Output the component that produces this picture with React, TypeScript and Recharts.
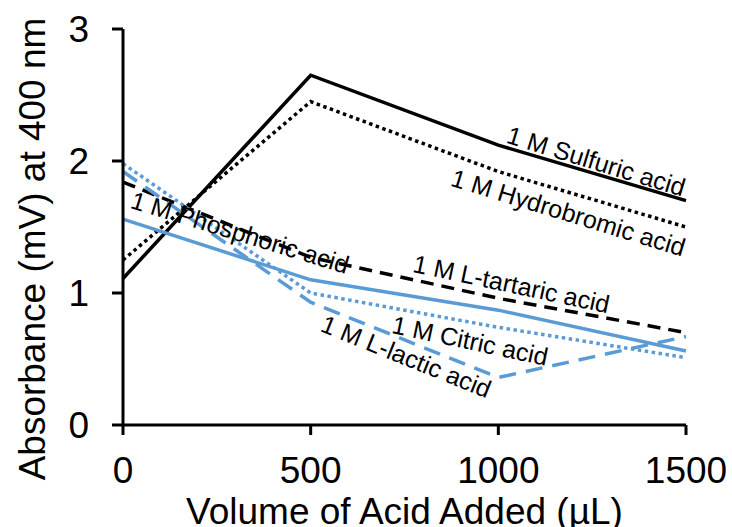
import React from 'react';
import { LineChart, Line, XAxis, YAxis, ReferenceDot } from 'recharts';

const volumes = [0, 500, 1000, 1500];
const sulfuric = [1.11, 2.65, 2.12, 1.7];
const hydrobromic = [1.25, 2.45, 1.92, 1.5];
const tartaric = [1.84, 1.27, 0.96, 0.7];
const phosphoric = [1.56, 1.1, 0.87, 0.56];
const citric = [1.98, 1.0, 0.74, 0.51];
const lactic = [1.92, 0.93, 0.36, 0.67];

const xTicks = [0, 500, 1000, 1500];
const yTicks = [0, 1, 2, 3];

// label text, anchor in data units, rotation
const seriesLabels = [
  { text: '1 M Sulfuric acid', x: 1261, y: 2.0, angle: 17 },
  { text: '1 M Hydrobromic acid', x: 1187, y: 1.61, angle: 17 },
  { text: '1 M Phosphoric acid', x: 312, y: 1.46, angle: 17 },
  { text: '1 M L-tartaric acid', x: 1035, y: 1.07, angle: 12 },
  { text: '1 M Citric acid', x: 925, y: 0.64, angle: 12 },
  { text: '1 M L-lactic acid', x: 755, y: 0.52, angle: 22 },
];

const data = volumes.map((v, i) => ({
  x: v,
  sulfuric: sulfuric[i],
  hydrobromic: hydrobromic[i],
  tartaric: tartaric[i],
  phosphoric: phosphoric[i],
  citric: citric[i],
  lactic: lactic[i],
}));

const FONT = '"Liberation Sans", Arial, sans-serif';
const BLUE = '#5B9BD5';
const BLACK = '#000000';

const XTitle = (props: any) => {
  const { viewBox } = props;
  return (
    <text x={viewBox.x + viewBox.width / 2} y={524} textAnchor="middle" fontSize={37} fontFamily={FONT} fill={BLACK}>
      Volume of Acid Added (µL)
    </text>
  );
};

const YTitle = (props: any) => {
  const { viewBox } = props;
  const cx = 45;
  const cy = viewBox.y + viewBox.height / 2 + 22;
  return (
    <text x={cx} y={cy} transform={`rotate(-90, ${cx}, ${cy})`} textAnchor="middle" fontSize={37} fontFamily={FONT} fill={BLACK}>
      Absorbance (mV) at 400 nm
    </text>
  );
};

const makeLabel = (text: string, angle: number) => (p: any) => (
  <text
    x={p.cx}
    y={p.cy}
    transform={`rotate(${angle}, ${p.cx}, ${p.cy})`}
    textAnchor="middle"
    dominantBaseline="central"
    fontSize={25}
    fontFamily={FONT}
    fill={BLACK}
  >
    {text}
  </text>
);

export default function App() {
  return (
    <div style={{ position: 'absolute', left: 0, top: 0, background: '#fff' }}>
      <LineChart width={732} height={527} data={data} margin={{ top: 29, right: 46, left: 0, bottom: 0 }}>
        <XAxis
          dataKey="x"
          type="number"
          domain={[0, 1500]}
          ticks={xTicks}
          interval={0}
          height={102}
          tickSize={10}
          tickMargin={22}
          axisLine={{ stroke: BLACK, strokeWidth: 3 }}
          tickLine={{ stroke: BLACK, strokeWidth: 3 }}
          tick={{ fill: BLACK, fontSize: 37, fontFamily: FONT }}
          label={<XTitle />}
        />
        <YAxis
          type="number"
          domain={[0, 3]}
          ticks={yTicks}
          interval={0}
          width={123}
          tickSize={11}
          tickMargin={23}
          axisLine={{ stroke: BLACK, strokeWidth: 3 }}
          tickLine={{ stroke: BLACK, strokeWidth: 3 }}
          tick={{ fill: BLACK, fontSize: 37, fontFamily: FONT }}
          label={<YTitle />}
        />
        <Line type="linear" dataKey="sulfuric" stroke={BLACK} strokeWidth={3.5} dot={false} isAnimationActive={false} />
        <Line type="linear" dataKey="hydrobromic" stroke={BLACK} strokeWidth={3.5} strokeDasharray="3.5 3.5" dot={false} isAnimationActive={false} />
        <Line type="linear" dataKey="tartaric" stroke={BLACK} strokeWidth={3.5} strokeDasharray="13 8" dot={false} isAnimationActive={false} />
        <Line type="linear" dataKey="phosphoric" stroke={BLUE} strokeWidth={3.5} dot={false} isAnimationActive={false} />
        <Line type="linear" dataKey="citric" stroke={BLUE} strokeWidth={3.5} strokeDasharray="3.5 3.5" dot={false} isAnimationActive={false} />
        <Line type="linear" dataKey="lactic" stroke={BLUE} strokeWidth={3.5} strokeDasharray="17 10" dot={false} isAnimationActive={false} />
        {seriesLabels.map((l) => (
          <ReferenceDot key={l.text} x={l.x} y={l.y} r={0} shape={makeLabel(l.text, l.angle)} />
        ))}
      </LineChart>
    </div>
  );
}
